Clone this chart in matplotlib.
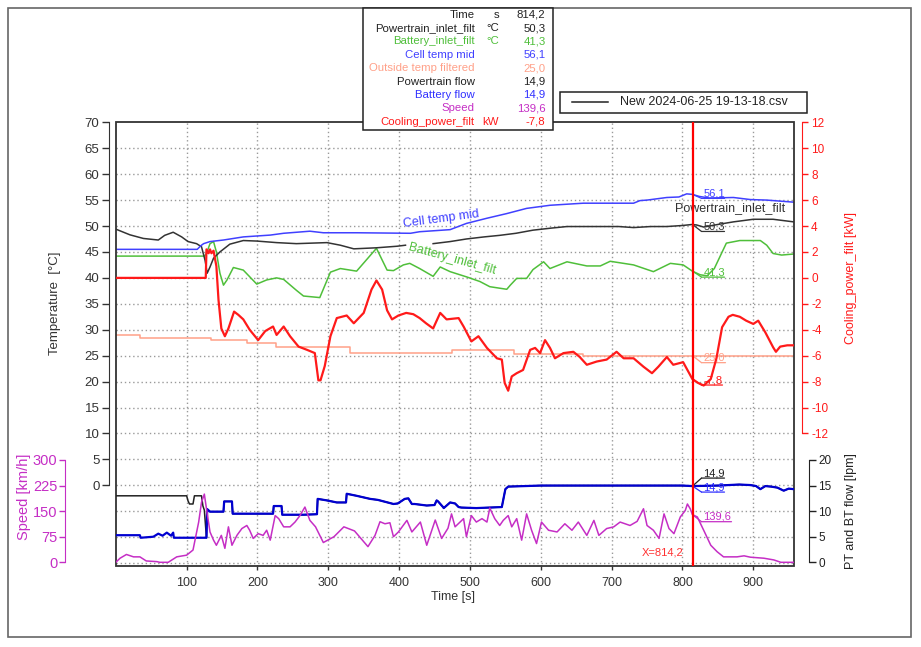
import numpy as np
import matplotlib
matplotlib.use('Agg')
import matplotlib.pyplot as plt
from matplotlib.patches import Rectangle
from matplotlib.lines import Line2D
from matplotlib.transforms import offset_copy

plt.rcParams['font.family'] = ['Liberation Sans', 'DejaVu Sans']
plt.rcParams['axes.unicode_minus'] = False

# ---- data ----
t_cursor = 814.2

pt_inlet_t = [0, 20, 39, 60, 69, 81, 93, 102, 114, 121, 126, 129, 133, 138, 147, 161, 180, 199, 227, 255,
              298, 317, 336, 368, 397, 409, 410, 447, 448, 472, 495, 520, 542, 565, 589, 615, 637, 660, 684,
              710, 731, 755, 778, 800, 814, 820, 830, 850, 872, 900, 928, 957]
pt_inlet = [49.4, 48.3, 47.6, 47.3, 48.2, 48.8, 47.9, 47.0, 46.6, 46.0, 43.4, 40.9, 42.1, 43.8, 45.0, 46.5,
            47.2, 47.1, 46.8, 46.6, 46.8, 46.3, 45.6, 45.8, 46.1, 46.3, np.nan, np.nan, 46.6, 47.0, 47.5,
            47.9, 48.2, 48.6, 49.2, 49.6, 49.9, 49.9, 49.9, 49.9, 49.7, 49.9, 49.9, 50.1, 50.3, 50.2, 49.8,
            50.3, 50.8, 51.3, 51.3, 50.8]

cell_t = [0, 115, 120, 124, 133, 152, 180, 218, 237, 274, 293, 340, 416, 429, 472, 495, 524, 552, 580, 613,
          660, 731, 740, 750, 778, 795, 806, 814, 824, 838, 872, 896, 919, 957]
cell_mid = [45.5, 45.5, 46.2, 46.6, 47.0, 47.3, 47.9, 48.25, 48.6, 49.0, 48.7, 48.7, 48.6, 48.9, 49.3, 50.5,
            51.5, 52.4, 53.4, 54.0, 54.4, 54.4, 54.9, 55.0, 55.5, 55.6, 56.2, 56.1, 55.7, 55.4, 55.5, 55.1,
            55.0, 54.6]

bat_inlet_t = [0, 125, 128, 133, 138, 142, 147, 152, 157, 166, 180, 199, 213, 227, 237, 255, 265, 288, 303,
               317, 340, 368, 383, 392, 406, 415, 429, 448, 458, 472, 495, 514, 528, 552, 557, 566, 580, 589,
               604, 613, 637, 665, 684, 698, 731, 759, 783, 801, 814, 825, 835, 845, 862, 881, 910, 919, 928,
               940, 957]
bat_inlet = [44.2, 44.2, 44.7, 46.6, 47.0, 45.0, 40.9, 38.6, 39.6, 42.0, 41.5, 38.8, 39.6, 40.0, 39.7, 37.6,
             36.5, 36.2, 41.1, 41.8, 41.3, 45.7, 41.5, 41.4, 42.5, 42.8, 41.8, 40.3, 42.1, 41.2, 40.2, 39.3,
             38.3, 37.8, 38.6, 39.9, 39.9, 41.6, 43.1, 41.8, 43.1, 42.3, 42.3, 43.2, 42.5, 41.2, 42.8, 42.5,
             41.3, 40.6, 40.4, 41.8, 46.7, 47.2, 47.2, 46.3, 44.7, 44.4, 44.6]

outside_t = [0, 34, 34, 135, 135, 185, 185, 226, 226, 330, 330, 474, 474, 562, 562, 660, 660, 957]
outside = [29.0, 29.0, 28.5, 28.5, 28.0, 28.0, 27.4, 27.4, 26.6, 26.6, 25.5, 25.5, 26.0, 26.0, 25.3, 25.3,
           25.0, 25.0]

cool_t = [0, 127, 128, 131, 133, 135, 138, 142, 145, 149, 154, 159, 167, 173, 180, 189, 201, 211, 222, 227,
          237, 246, 258, 270, 281, 286, 289, 295, 303, 312, 326, 336, 350, 361, 368, 376, 383, 390, 399, 410,
          420, 429, 438, 448, 458, 467, 484, 491, 502, 512, 524, 538, 545, 549, 554, 559, 566, 575, 585, 592,
          599, 606, 613, 620, 632, 646, 655, 665, 679, 693, 707, 717, 731, 745, 757, 766, 778, 787, 801, 808,
          814, 822, 830, 840, 848, 856, 865, 871, 881, 890, 900, 907, 917, 928, 932, 938, 948, 957]
cooling = [0, 0, 2.2, 1.9, 2.2, 1.9, 2.1, 0.9, -1.7, -3.9, -4.5, -3.9, -2.6, -2.85, -3.2, -4.0, -4.8, -4.1,
           -3.75, -4.4, -3.75, -4.5, -5.3, -5.55, -5.8, -7.9, -7.9, -6.8, -4.5, -3.1, -2.9, -3.5, -2.7, -0.9,
           -0.2, -0.9, -2.5, -3.2, -2.9, -2.7, -2.8, -3.1, -3.5, -3.9, -2.7, -3.2, -3.1, -3.75, -4.9, -4.5,
           -5.4, -6.2, -6.3, -8.1, -8.7, -7.6, -7.35, -7.1, -5.55, -5.4, -5.8, -4.8, -5.4, -6.2, -5.8, -5.7,
           -6.1, -6.7, -6.45, -6.3, -5.7, -6.2, -6.2, -6.85, -7.35, -6.85, -6.1, -6.7, -6.5, -7.2, -7.8, -8.1,
           -8.3, -7.8, -6.2, -3.8, -3.0, -2.85, -3.0, -3.3, -3.55, -3.3, -4.2, -5.35, -5.7, -5.3, -5.2, -5.2]

speed_t = [0, 6, 15, 25, 34, 43, 58, 62, 74, 86, 100, 109, 117, 121, 125, 128, 133, 138, 142, 149, 154, 159,
           164, 171, 178, 185, 189, 194, 201, 208, 213, 218, 225, 230, 237, 246, 253, 260, 267, 274, 282, 293,
           308, 322, 337, 356, 366, 373, 380, 387, 392, 399, 411, 418, 430, 439, 451, 460, 469, 474, 479, 491,
           495, 502, 509, 517, 524, 528, 535, 542, 547, 554, 559, 566, 573, 580, 587, 594, 601, 611, 623, 634,
           644, 653, 665, 675, 682, 693, 703, 712, 726, 736, 745, 750, 759, 767, 774, 781, 788, 797, 804, 807,
           811, 814, 821, 830, 840, 849, 858, 877, 887, 896, 915, 929, 939, 957]
speed = [0, 12, 23, 16, 16, 4, 2, 0, 0, 16, 21, 36, 118, 176, 200, 157, 89, 65, 50, 79, 41, 104, 50, 79, 99,
         108, 94, 70, 84, 79, 94, 65, 137, 128, 104, 104, 118, 137, 162, 123, 104, 58, 75, 104, 92, 46, 79,
         119, 113, 116, 75, 89, 123, 89, 118, 50, 124, 70, 100, 142, 104, 128, 75, 137, 118, 128, 118, 159,
         128, 108, 123, 137, 104, 128, 65, 142, 94, 55, 118, 94, 89, 113, 94, 118, 79, 123, 79, 99, 104, 118,
         108, 120, 157, 108, 94, 70, 142, 99, 84, 133, 152, 171, 157, 140, 133, 94, 50, 31, 16, 16, 19, 15,
         12, 7, 0, 0]

bt_flow_t = [0, 34, 35, 53, 60, 66, 72, 78, 81, 82, 128, 129, 133, 152, 153, 164, 165, 222, 223, 234, 235,
             265, 284, 285, 298, 312, 325, 326, 340, 359, 370, 392, 398, 408, 413, 418, 422, 439, 450, 453, 455,
             462, 463, 472, 479, 484, 488, 509, 545, 550, 554, 600, 700, 800, 814, 850, 880, 896, 904, 910, 917,
             925, 934, 943, 950, 957]
bt_flow = [5.3, 5.3, 4.8, 5.0, 5.6, 5.2, 5.8, 5.2, 5.8, 4.8, 4.8, 10.4, 9.9, 9.9, 11.9, 11.9, 9.5, 9.5, 11.0,
           11.0, 9.3, 9.3, 9.4, 12.4, 12.1, 11.7, 11.7, 13.4, 13.0, 12.4, 12.2, 11.4, 11.5, 12.4, 12.5, 11.4,
           11.4, 11.1, 11.2, 12.1, 11.9, 10.8, 10.6, 11.7, 11.5, 10.8, 10.7, 10.6, 10.8, 14.3, 14.8, 15.0, 15.0,
           15.0, 14.9, 15.0, 15.2, 15.1, 14.9, 14.3, 14.9, 14.8, 14.6, 14.0, 14.4, 14.3]

# powertrain flow: visible start, then it runs under the battery flow trace
pt_flow_t = [0, 100, 102, 104, 109, 111, 121, 123, 125] + bt_flow_t[10:]
pt_flow = [13.0, 13.0, 12.0, 11.4, 11.4, 13.0, 13.0, 11.0, 10.2] + bt_flow[10:]

# ---- colours ----
c_black = '#333333'
c_green = '#4fbf3a'
c_blue = '#4040ff'
c_salmon = '#ffa088'
c_red = '#ff1a1a'
c_flow = '#0000d0'
c_speed = '#c52ec5'

W, H = 921, 647


def fx(x):
    return x / W


def fy(y):
    return 1 - y / H


fig = plt.figure(figsize=(9.21, 6.47), dpi=100)
ax = fig.add_axes([fx(115.8), fy(566), (794 - 115.8) / W, (566 - 122.3) / H])
ax2 = ax.twinx()
ax3 = ax.twinx()
ax4 = ax.twinx()

ax.set_xlim(0, 957.5)
ax.set_ylim(-15.56, 70)
ax2.set_ylim(-22.22, 12)
ax3.set_ylim(-0.72, 86.0)
ax4.set_ylim(-10.8, 1290)

for a in (ax, ax2, ax3, ax4):
    for s in a.spines.values():
        s.set_visible(False)

# temperature axis
ax.spines['left'].set_visible(True)
ax.spines['left'].set_position(('outward', 4.8))
ax.spines['left'].set_bounds(0, 70)
ax.spines['left'].set_color(c_black)
ax.set_yticks(np.arange(0, 71, 5))
ax.tick_params(axis='y', direction='out', length=5, width=1, pad=2, labelsize=9.5, colors=c_black)
ax.set_xticks(range(100, 901, 100))
ax.tick_params(axis='x', direction='out', length=3, width=1, pad=5, labelsize=9, colors=c_black)
ax.add_patch(Rectangle((0, 0), 1, 1, transform=ax.transAxes, fill=False, ec='#333333', lw=1.3,
                       zorder=5, clip_on=False))

# grid
grid_kw = dict(color='#9a9a9a', ls=(0, (1, 2)), lw=1)
ax.grid(axis='x', **grid_kw)
for g in range(-15, 70, 5):
    ax.axhline(g, zorder=1, **grid_kw)

# cooling axis (right, red)
ax2.spines['right'].set_visible(True)
ax2.spines['right'].set_position(('outward', 5.8))
ax2.spines['right'].set_bounds(-12, 12)
ax2.spines['right'].set_color(c_red)
ax2.set_yticks(range(-12, 13, 2))
ax2.tick_params(axis='y', direction='out', length=4.5, width=1, pad=2, labelsize=8.5, colors=c_red)

# flow axis (right, black)
ax3.spines['right'].set_visible(True)
ax3.spines['right'].set_position(('outward', 10.8))
ax3.spines['right'].set_bounds(0, 20)
ax3.spines['right'].set_color('#222222')
ax3.set_yticks(range(0, 21, 5))
ax3.tick_params(axis='y', direction='out', length=5, width=1, pad=1.5, labelsize=8.5, colors='#222222')

# speed axis (left, magenta)
ax4.yaxis.tick_left()
ax4.spines['left'].set_visible(True)
ax4.spines['left'].set_position(('outward', 36.5))
ax4.spines['left'].set_bounds(0, 300)
ax4.spines['left'].set_color(c_speed)
ax4.set_yticks(range(0, 301, 75))
ax4.tick_params(axis='y', direction='out', length=4, width=1, pad=1.5, labelsize=10.5, colors=c_speed)

# ---- series ----
ax.plot(outside_t, outside, color=c_salmon, lw=1.1)
ax.plot(bat_inlet_t, bat_inlet, color=c_green, lw=1.1)
ax.plot(pt_inlet_t, pt_inlet, color=c_black, lw=1.1)
ax.plot(cell_t, cell_mid, color=c_blue, lw=1.1)
ax2.plot(cool_t, cooling, color=c_red, lw=1.6)
ax3.plot(pt_flow_t, pt_flow, color='#222222', lw=1.1)
ax3.plot(bt_flow_t, bt_flow, color=c_flow, lw=1.6)
ax4.plot(speed_t, speed, color=c_speed, lw=1.1)

ax4.axvline(t_cursor, color='#ff0000', lw=1.6, zorder=10)

# in-plot names
ax.text(460, 51.3, 'Cell temp mid', color=c_blue, fontsize=9, rotation=7.5,
        ha='center', va='center', rotation_mode='anchor')
ax.text(475, 43.6, 'Battery_inlet_filt', color=c_green, fontsize=9, rotation=-15.5,
        ha='center', va='center', rotation_mode='anchor')
ax.text(868, 53.5, 'Powertrain_inlet_filt', color=c_black, fontsize=9, ha='center', va='center')


def tag(axx, val, txt, col, dy, length):
    p = (t_cursor, val)
    a = offset_copy(axx.transData, fig=fig, x=9, y=dy, units='dots')
    b = offset_copy(axx.transData, fig=fig, x=9 + length, y=dy, units='dots')
    kw = dict(arrowstyle='-', color=col, lw=0.9, shrinkA=0, shrinkB=0)
    axx.annotate('', xy=p, xycoords='data', xytext=p, textcoords=a, arrowprops=kw)
    axx.annotate('', xy=p, xycoords=b, xytext=p, textcoords=a, arrowprops=kw)
    axx.annotate(txt, xy=p, xytext=(11, dy + 2), textcoords='offset pixels', color=col,
                 fontsize=8, ha='left', va='baseline')


tag(ax, 56.1, '56,1', c_blue, -4, 23)
tag(ax, 50.3, '50,3', c_black, -7, 23)
tag(ax, 41.3, '41,3', c_green, -6, 23)
tag(ax, 25.0, '25,0', c_salmon, -7, 24)
tag(ax2, -7.8, '-7,8', c_red, -6, 21)
tag(ax3, 14.9, '14,9', '#222222', 8, 23)
tag(ax3, 14.9, '14,9', '#3030ff', -6, 23)
tag(ax4, 139.6, '139,6', c_speed, -7, 30)

ax.annotate('X=814,2', xy=(t_cursor, -12.9), xytext=(-9, 0), textcoords='offset pixels',
            color='#ff3030', fontsize=8, ha='right', va='center')

# axis labels
fig.text(fx(55), fy(303), 'Temperature  [°C]', rotation=90, ha='center', va='center',
         fontsize=9.5, color=c_black)
fig.text(fx(24), fy(497), 'Speed [km/h]', rotation=90, ha='center', va='center',
         fontsize=10.5, color=c_speed)
fig.text(fx(851), fy(278), 'Cooling_power_filt [kW]', rotation=90, ha='center', va='center',
         fontsize=9, color=c_red)
fig.text(fx(851), fy(511), 'PT and BT flow [lpm]', rotation=90, ha='center', va='center',
         fontsize=9, color='#222222')
fig.text(fx(453), fy(597), 'Time [s]', ha='center', va='center', fontsize=9, color=c_black)

# outer frame
fig.add_artist(Rectangle((fx(8), fy(637)), fx(911) - fx(8), fy(8) - fy(637), transform=fig.transFigure,
                         fill=False, ec='#666666', lw=1.2))

# value box (white, sits on top of the plot frame)
box_names = ['Time', 'Powertrain_inlet_filt', 'Battery_inlet_filt', 'Cell temp mid',
             'Outside temp filtered', 'Powertrain flow', 'Battery flow', 'Speed', 'Cooling_power_filt']
box_units = ['s', '°C', '°C', '', '', '', '', '', 'kW']
box_values = ['814,2', '50,3', '41,3', '56,1', '25,0', '14,9', '14,9', '139,6', '-7,8']
box_colors = ['#222222', '#222222', c_green, c_blue, c_salmon, '#222222', '#3030ff', c_speed, c_red]

fig.add_artist(Rectangle((fx(363), fy(130)), fx(553) - fx(363), fy(8) - fy(130),
                         transform=fig.transFigure, fc='white', ec='#222222', lw=1.1, zorder=20))
for i, (n, u, v, c) in enumerate(zip(box_names, box_units, box_values, box_colors)):
    yy = fy(14.7 + i * 13.37)
    fig.text(fx(474.5), yy, n, ha='right', va='center', fontsize=8.2, color=c, zorder=21)
    fig.text(fx(499), yy, u, ha='right', va='center', fontsize=8.2, color=c, zorder=21)
    fig.text(fx(545.5), yy, v, ha='right', va='center', fontsize=8.2, color=c, zorder=21)

# file legend
fig.add_artist(Rectangle((fx(560), fy(112.7)), fx(807) - fx(560), fy(92) - fy(112.7),
                         transform=fig.transFigure, fc='white', ec='#222222', lw=1.1, zorder=20))
fig.add_artist(Line2D([fx(572), fx(608)], [fy(102.3), fy(102.3)], transform=fig.transFigure,
                      color='#222222', lw=1.1, zorder=21))
fig.text(fx(620), fy(102.3), 'New 2024-06-25 19-13-18.csv', ha='left', va='center', fontsize=9,
         color='#222222', zorder=21)

fig.savefig('out.png', dpi=100)
